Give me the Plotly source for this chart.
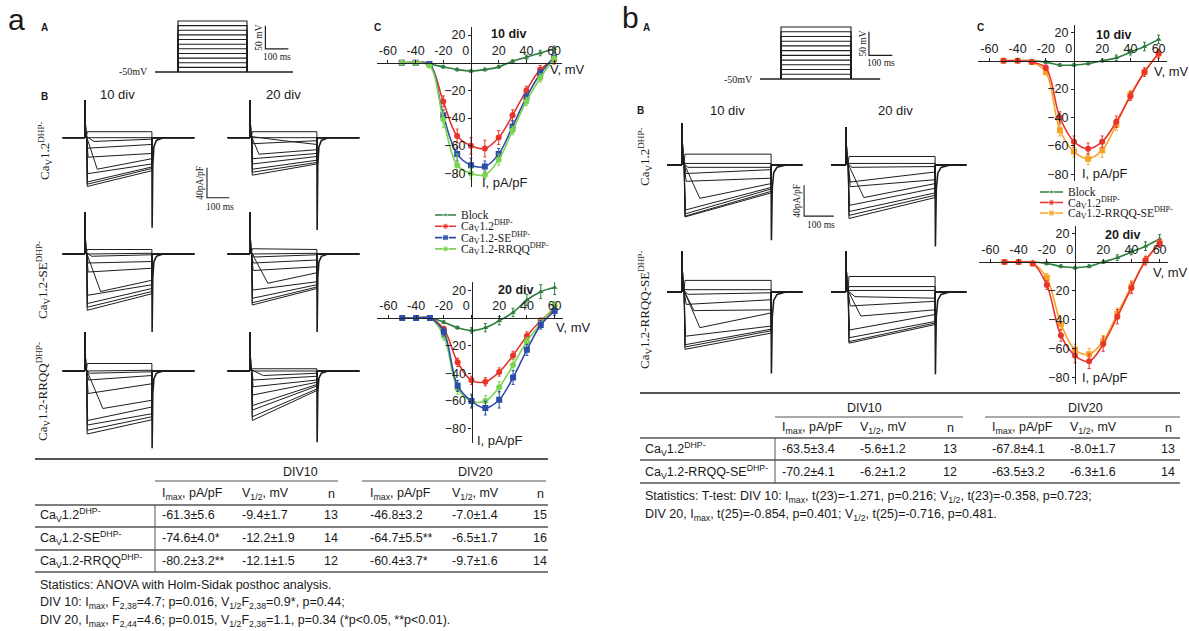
import plotly.graph_objects as go

W, H = 1189, 631
SANS = "Liberation Sans, Arial, sans-serif"
SERIF = "Liberation Serif, Times New Roman, serif"

# ======================= DATA =======================
V_MV = [-50, -40, -30, -20, -10, 0, 10, 20, 30, 40, 50, 60]

# panel a, C : I-V (pA/pF), 10 div
IV_A10_BLOCK = [0, 0, -1, -3, -5, -6, -5, -3, 1, 4, 7, 10]
IV_A10_WT = [0, 0, -1, -28, -53, -60, -62, -54, -38, -20, -5, 2]
IV_A10_SE = [0, 0, -1, -38, -66, -74, -75, -66, -46, -25, -8, 4]
IV_A10_RRQQ = [0, 0, -2, -41, -74, -80, -81, -70, -49, -28, -11, 3]
ERR_A10_BLOCK = [0, 0, 0.5, 1, 1, 1, 1, 1, 1, 1.5, 2, 2]
ERR_A10_WT = [0, 0, 1, 4, 5, 6, 6, 5, 4, 3, 3, 3]
ERR_A10_SE = [0, 0, 1, 4, 5, 5, 4, 4, 4, 3, 3, 3]
ERR_A10_RRQQ = [0, 0, 1, 6, 8, 4, 3, 4, 3, 3, 3, 3]
# panel a, C : I-V, 20 div
IV_A20_BLOCK = [0, 0, 0, -3, -7, -9, -7, -2, 4, 13, 19, 22]
IV_A20_WT = [0, 0, 0, -8, -32, -45, -46, -39, -27, -13, -2, 6]
IV_A20_SE = [0, 0, 0, -10, -49, -60, -65, -59, -43, -23, -5, 5]
IV_A20_RRQQ = [0, 0, 0, -13, -51, -60, -60, -50, -34, -17, -4, 9]
ERR_A20_BLOCK = [0, 0, 0, 1, 1, 2, 3, 3, 3, 4, 5, 5]
ERR_A20_WT = [0, 0, 0, 2, 3, 3, 3, 3, 3, 3, 2, 2]
ERR_A20_SE = [0, 0, 0, 3, 4, 5, 5, 6, 5, 4, 3, 3]
ERR_A20_RRQQ = [0, 0, 0, 3, 4, 4, 4, 4, 4, 3, 3, 3]
# panel b, C : I-V
IV_B10_BLOCK = [0, 0, 0, -1, -3, -3, -2, 0, 2, 6, 10, 15]
IV_B10_WT = [0, 0, -1, -5, -40, -57, -62, -57, -43, -25, -8, 5]
IV_B10_RS = [0, 0, -1, -8, -49, -64, -69, -63, -45, -24, -8, 5]
IV_B20_BLOCK = [0, 0, 0, -1, -3, -4, -3, 0, 3, 7, 11, 16]
IV_B20_WT = [0, 0, -1, -16, -51, -65, -69, -57, -38, -18, 1, 13]
IV_B20_RS = [0, 0, -1, -11, -43, -61, -64, -55, -36, -17, 1, 13]
ERR_B_BLOCK = [0, 0, 0, 1, 1, 1, 1, 1, 2, 2, 3, 3]
ERR_B10_WT = [0, 0, 1, 2, 4, 4, 4, 4, 4, 3, 3, 3]
ERR_B10_RS = [0, 0, 1, 2, 4, 4, 4, 5, 4, 3, 3, 3]
ERR_B20_WT = [0, 0, 1, 3, 4, 5, 5, 5, 5, 4, 3, 3]
ERR_B20_RS = [0, 0, 1, 3, 4, 4, 4, 4, 4, 4, 3, 3]

# voltage protocol
HOLD_MV = -50
PROTO_LEVELS_MV = [-40, -30, -20, -10, 0, 10, 20, 30, 40, 50, 60]
PULSE_MS = 300
SCALE_MV = 50
SCALE_MS = 100
SCALE_PAPF = 40

# current traces: peak, end-of-pulse current (pA/pF) and time to peak (ms)
A_WT_10_PEAK = [8, 0, -5, -14, -26, -42, -48, -59, -62, -65]
A_WT_10_END = [8, 0, -2, -9, -21, -28, -35, -39, -41, -44]
A_WT_10_TPK = [10, 10, 40, 12, 14, 55, 12, 11, 10, 10]
A_WT_20_PEAK = [8, 0, -4, -8, -22, -28, -35, -42, -46, -50]
A_WT_20_END = [8, 0, -9, -4, -16, -21, -25, -30, -33, -35]
A_WT_20_TPK = [10, 10, 150, 12, 40, 12, 12, 11, 10, 10]
A_SE_10_PEAK = [6, 0, -3, -12, -24, -50, -55, -66, -71, -75]
A_SE_10_END = [6, 1, -1, -10, -19, -35, -41, -46, -50, -53]
A_SE_10_TPK = [10, 10, 30, 14, 14, 70, 12, 11, 10, 10]
A_SE_20_PEAK = [7, 0, -4, -12, -22, -39, -48, -59, -65, -68]
A_SE_20_END = [6, 1, -1, -8, -17, -25, -37, -41, -44, -46]
A_SE_20_TPK = [10, 10, 20, 14, 14, 80, 12, 11, 10, 10]
A_RQ_10_PEAK = [10, 0, -3, -12, -30, -50, -66, -72, -79, -84]
A_RQ_10_END = [10, 1, -1, -6, -17, -39, -48, -57, -61, -65]
A_RQ_10_TPK = [10, 10, 20, 16, 14, 80, 12, 11, 10, 10]
A_RQ_20_PEAK = [3, 0, -6, -12, -21, -32, -46, -52, -61, -66]
A_RQ_20_END = [3, 0, -3, -7, -12, -15, -18, -20, -24, -26]
A_RQ_20_TPK = [10, 10, 60, 14, 14, 12, 12, 11, 10, 10]
B_WT_10_PEAK = [14, 2, -3, -11, -21, -43, -58, -63, -66, -67]
B_WT_10_END = [14, 2, -3, -6, -17, -24, -29, -31, -34, -36]
B_WT_10_TPK = [10, 10, 20, 14, 14, 60, 12, 11, 10, 10]
B_WT_20_PEAK = [11, 2, -3, -22, -28, -42, -52, -60, -65, -69]
B_WT_20_END = [11, 2, -2, -9, -19, -24, -30, -36, -39, -42]
B_WT_20_TPK = [10, 10, 20, 14, 14, 60, 12, 11, 10, 10]
B_RS_10_PEAK = [15, 3, -3, -16, -24, -46, -57, -68, -71, -74]
B_RS_10_END = [15, 3, -1, -10, -23, -27, -44, -48, -50, -53]
B_RS_10_TPK = [10, 10, 20, 14, 40, 60, 12, 11, 10, 10]
B_RS_20_PEAK = [20, 7, 2, -6, -18, -31, -49, -59, -64, -66]
B_RS_20_END = [20, 7, 2, -8, -12, -23, -29, -38, -40, -42]
B_RS_20_TPK = [10, 10, 10, 30, 14, 50, 12, 11, 10, 10]
# capacitive spike height and tail depth per trace panel (pA/pF)
A_SPIKE = [[50, 50], [55, 55], [52, 52]]
A_TAIL = [[120, 123], [104, 104], [103, 95]]
B_SPIKE = [[54, 49], [52, 52]]
B_TAIL = [[97, 105], [105, 106]]
SPIKE_T_MS = [0, 0, 3, 7]
SPIKE_SHAPE = [0, 1, 0.15, 0.03]
TAIL_T_MS = [0, 1, 4, 9, 20, 50]
TAIL_SHAPE = [0, 1, 0.3, 0.1, 0.03, 0]

# tables
TA_ROWS = ["Ca<sub>V</sub>1.2<sup>DHP-</sup>", "Ca<sub>V</sub>1.2-SE<sup>DHP-</sup>",
           "Ca<sub>V</sub>1.2-RRQQ<sup>DHP-</sup>"]
TA_IMAX10 = ["-61.3±5.6", "-74.6±4.0*", "-80.2±3.2**"]
TA_V10 = ["-9.4±1.7", "-12.2±1.9", "-12.1±1.5"]
TA_N10 = ["13", "14", "12"]
TA_IMAX20 = ["-46.8±3.2", "-64.7±5.5**", "-60.4±3.7*"]
TA_V20 = ["-7.0±1.4", "-6.5±1.7", "-9.7±1.6"]
TA_N20 = ["15", "16", "14"]
TA_STATS = ["Statistics: ANOVA with Holm-Sidak posthoc analysis.",
            "DIV 10: I<sub>max</sub>, F<sub>2,38</sub>=4.7; p=0.016, V<sub>1/2</sub>F<sub>2,38</sub>=0.9*, p=0.44;",
            "DIV 20, I<sub>max</sub>, F<sub>2,44</sub>=4.6; p=0.015, V<sub>1/2</sub>F<sub>2,38</sub>=1.1, p=0.34 (*p&lt;0.05, **p&lt;0.01)."]
TB_ROWS = ["Ca<sub>V</sub>1.2<sup>DHP-</sup>", "Ca<sub>V</sub>1.2-RRQQ-SE<sup>DHP-</sup>"]
TB_IMAX10 = ["-63.5±3.4", "-70.2±4.1"]
TB_V10 = ["-5.6±1.2", "-6.2±1.2"]
TB_N10 = ["13", "12"]
TB_IMAX20 = ["-67.8±4.1", "-63.5±3.2"]
TB_V20 = ["-8.0±1.7", "-6.3±1.6"]
TB_N20 = ["13", "14"]
TB_STATS = ["Statistics: T-test: DIV 10: I<sub>max</sub>, t(23)=-1.271, p=0.216; V<sub>1/2</sub>, t(23)=-0.358, p=0.723;",
            "DIV 20, I<sub>max</sub>, t(25)=-0.854, p=0.401; V<sub>1/2</sub>, t(25)=-0.716, p=0.481."]
H_IMAX = "I<sub>max</sub>, pA/pF"
H_V = "V<sub>1/2</sub>, mV"
H_N = "n"

# ======================= STYLE =======================
C_BLOCK = "#2e7d3e"
C_WT = "#e8342c"
C_SE = "#2c4ea8"
C_RRQQ = "#7bd34f"
C_RS = "#f7a428"
C_TRACE = "#1e1e1e"
C_AX = "#222222"

fig = go.Figure()
layout = {}
annotations = []
shapes = []
_n = [0]


def add_axes(xpx, ypx, xr, yr, xkw=None, ykw=None):
    _n[0] += 1
    n = _n[0]
    s = "" if n == 1 else str(n)
    xa = dict(domain=[xpx[0] / W, xpx[1] / W], range=list(xr), visible=False,
              fixedrange=True, anchor="y" + s, showgrid=False, zeroline=False)
    ya = dict(domain=[1 - ypx[1] / H, 1 - ypx[0] / H], range=list(yr), visible=False,
              fixedrange=True, anchor="x" + s, showgrid=False, zeroline=False)
    if xkw:
        xa.update(xkw)
    if ykw:
        ya.update(ykw)
    layout["xaxis" + s] = xa
    layout["yaxis" + s] = ya
    return "x" + s, "y" + s


def lin_axes(x0px, x0v, kx, xr, y0px, y0v, ky, yr, xkw=None, ykw=None):
    xpx = (x0px + (xr[0] - x0v) * kx, x0px + (xr[1] - x0v) * kx)
    ypx = (y0px - (yr[1] - y0v) * ky, y0px - (yr[0] - y0v) * ky)
    return add_axes(xpx, ypx, xr, yr, xkw, ykw)


def ann(text, x, y, size=12.5, family=SANS, xanchor="center", yanchor="middle",
        angle=0, color="#1a1a1a", xref="paper", yref="paper"):
    if xref == "paper":
        x = x / W
    if yref == "paper":
        y = 1 - y / H
    annotations.append(dict(text=text, x=x, y=y, xref=xref, yref=yref, showarrow=False,
                            xanchor=xanchor, yanchor=yanchor, textangle=angle,
                            font=dict(family=family, size=size, color=color)))


def hline(x0, x1, y, width=1.0, color="#444"):
    shapes.append(dict(type="line", xref="paper", yref="paper", x0=x0 / W, x1=x1 / W,
                       y0=1 - y / H, y1=1 - y / H, line=dict(color=color, width=width)))


def vline(x, y0, y1, width=1.0, color="#444"):
    shapes.append(dict(type="line", xref="paper", yref="paper", x0=x / W, x1=x / W,
                       y0=1 - y0 / H, y1=1 - y1 / H, line=dict(color=color, width=width)))


def line_trace(xa, ya, x, y, color=C_TRACE, width=1.0):
    fig.add_trace(go.Scatter(x=x, y=y, mode="lines", xaxis=xa, yaxis=ya,
                             line=dict(color=color, width=width, simplify=False),
                             hoverinfo="skip"))


# ---------------- voltage protocol ----------------
def protocol(t0px, kt, v0px, kv, t_start, t_end, xr, bar_t, lab):
    xa, ya = lin_axes(t0px, 0, kt, xr, v0px, HOLD_MV, kv, [-56, 66])
    line_trace(xa, ya, [t_start, t_end], [HOLD_MV, HOLD_MV], width=1.4)
    for v in PROTO_LEVELS_MV:
        line_trace(xa, ya, [0, 0, PULSE_MS, PULSE_MS], [HOLD_MV, v, v, HOLD_MV], width=1.1)
    line_trace(xa, ya, [bar_t, bar_t, bar_t + SCALE_MS], [SCALE_MV, 0, 0], width=1.2)
    ann("-50mV", lab[0], lab[1], size=10, family=SERIF, xanchor="right")
    ann("%d mV" % SCALE_MV, t0px + bar_t * kt - 6, v0px - (SCALE_MV / 2 - HOLD_MV) * kv,
        size=9.5, family=SERIF, angle=-90)
    ann("%d ms" % SCALE_MS, t0px + (bar_t + SCALE_MS / 2) * kt, v0px - (0 - HOLD_MV) * kv + 8,
        size=9.5, family=SERIF)


protocol(178, 0.23, 72, 0.4636, -100, 500, [-110, 510], 380, (150, 72))
protocol(781, 0.2333, 79, 0.4727, -90, 425, [-100, 500], 377, (755, 79))


# ---------------- current traces ----------------
def trace_panel(t0px, kt, base_px, ki, xr, yr, t_start, t_end, peaks, ends, tpks, spike, tail,
                bar=None):
    xa, ya = lin_axes(t0px, 0, kt, xr, base_px, 0, ki, yr)
    spike_y = [spike * f for f in SPIKE_SHAPE]
    for p, e, tp in zip(peaks, ends, tpks):
        xs = [t_start] + SPIKE_T_MS + [tp, PULSE_MS, PULSE_MS, t_end]
        ys = [0] + spike_y + [p, e, 0, 0]
        line_trace(xa, ya, xs, ys, width=1.0)
    line_trace(xa, ya, [PULSE_MS + t for t in TAIL_T_MS], [-tail * f for f in TAIL_SHAPE],
               width=1.6)
    if bar is not None:
        bt, bi = bar
        line_trace(xa, ya, [bt, bt, bt + SCALE_MS], [bi + SCALE_PAPF, bi, bi], width=1.1)
        ann("%dpA/pF" % SCALE_PAPF, t0px + bt * kt - 7, base_px - (bi + SCALE_PAPF / 2) * ki,
            size=9.5, family=SERIF, angle=-90)
        ann("%d ms" % SCALE_MS, t0px + (bt + SCALE_MS / 2) * kt + 2, base_px - bi * ki + 9,
            size=9.5, family=SERIF)


KA_T, KA_I = 0.223, 0.75
A_BASE = [137.7, 254, 371]
A_PANELS = [
    [(A_WT_10_PEAK, A_WT_10_END, A_WT_10_TPK), (A_WT_20_PEAK, A_WT_20_END, A_WT_20_TPK)],
    [(A_SE_10_PEAK, A_SE_10_END, A_SE_10_TPK), (A_SE_20_PEAK, A_SE_20_END, A_SE_20_TPK)],
    [(A_RQ_10_PEAK, A_RQ_10_END, A_RQ_10_TPK), (A_RQ_20_PEAK, A_RQ_20_END, A_RQ_20_TPK)],
]
for r in range(3):
    for c, (t0px, xr) in enumerate([(85, [-105, 660]), (250, [-105, 500])]):
        pk, en, tp = A_PANELS[r][c]
        bar = (547, -80) if (r == 0 and c == 0) else None
        trace_panel(t0px, KA_T, A_BASE[r], KA_I, xr, [-135, 62], -100, 490, pk, en, tp,
                    A_SPIKE[r][c], A_TAIL[r][c], bar)

KB_T, KB_I = 0.297, 0.775
B_BASE = [165, 292]
B_PANELS = [
    [(B_WT_10_PEAK, B_WT_10_END, B_WT_10_TPK), (B_WT_20_PEAK, B_WT_20_END, B_WT_20_TPK)],
    [(B_RS_10_PEAK, B_RS_10_END, B_RS_10_TPK), (B_RS_20_PEAK, B_RS_20_END, B_RS_20_TPK)],
]
for r in range(2):
    for c, (t0px, xr) in enumerate([(682, [-60, 520]), (846, [-60, 420])]):
        pk, en, tp = B_PANELS[r][c]
        bar = (411, -66) if (r == 0 and c == 0) else None
        trace_panel(t0px, KB_T, B_BASE[r], KB_I, xr, [-115, 62], -50, 405, pk, en, tp,
                    B_SPIKE[r][c], B_TAIL[r][c], bar)


# ---------------- I-V plots ----------------
def iv_plot(x0px, kx, y0px, ky, yr, series, title, tpos, vpos, ipos):
    tickfont = dict(family=SANS, size=12.5, color=C_AX)
    xkw = dict(visible=True, anchor="free", position=1 - y0px / H, side="top",
               showline=True, linecolor=C_AX, linewidth=1.3, ticks="outside", ticklen=3,
               tickcolor=C_AX, tickvals=[-60, -40, -20, 0, 20, 40, 60],
               ticktext=["-60", "-40", "-20", "0\u00a0\u00a0\u00a0", "20", "40", "60"],
               tickfont=tickfont)
    ykw = dict(visible=True, anchor="free", position=x0px / W, side="left",
               showline=True, linecolor=C_AX, linewidth=1.3, ticks="outside", ticklen=3,
               tickcolor=C_AX, tickvals=[-80, -60, -40, -20, 20],
               tickfont=tickfont)
    xa, ya = lin_axes(x0px, 0, kx, [-68, 66], y0px, 0, ky, yr, xkw, ykw)
    for vals, err, color, sym, size in series:
        fig.add_trace(go.Scatter(
            x=V_MV, y=vals, mode="lines+markers", xaxis=xa, yaxis=ya,
            line=dict(color=color, width=1.6, shape="spline", smoothing=1.0),
            marker=dict(color=color, symbol=sym, size=size),
            error_y=dict(type="data", array=err, color=color, thickness=1, width=1.5),
            hoverinfo="skip"))
    ann("<b>%s</b>" % title, tpos[0], tpos[1], size=12.5)
    ann("V, mV", vpos[0], vpos[1], size=13, xanchor="left")
    ann("I, pA/pF", ipos[0], ipos[1], size=13)


iv_plot(471, 1.385, 62.7, 1.385, [-90, 26],
        [(IV_A10_BLOCK, ERR_A10_BLOCK, C_BLOCK, "triangle-up", 5),
         (IV_A10_WT, ERR_A10_WT, C_WT, "circle", 6),
         (IV_A10_SE, ERR_A10_SE, C_SE, "square", 6),
         (IV_A10_RRQQ, ERR_A10_RRQQ, C_RRQQ, "circle", 6)],
        "10 div", (508, 34), (548, 70), (505, 183))
iv_plot(471.5, 1.385, 318, 1.385, [-90, 26],
        [(IV_A20_BLOCK, ERR_A20_BLOCK, C_BLOCK, "triangle-up", 5),
         (IV_A20_WT, ERR_A20_WT, C_WT, "circle", 6),
         (IV_A20_RRQQ, ERR_A20_RRQQ, C_RRQQ, "circle", 6),
         (IV_A20_SE, ERR_A20_SE, C_SE, "square", 6)],
        "20 div", (515, 290), (554, 327), (500, 440))
iv_plot(1074, 1.41, 60.7, 1.42, [-85, 25],
        [(IV_B10_BLOCK, ERR_B_BLOCK, C_BLOCK, "triangle-up", 5),
         (IV_B10_RS, ERR_B10_RS, C_RS, "square", 6),
         (IV_B10_WT, ERR_B10_WT, C_WT, "circle", 6)],
        "10 div", (1113, 35), (1152, 72), (1105, 174))
iv_plot(1075, 1.41, 262, 1.44, [-85, 25],
        [(IV_B20_BLOCK, ERR_B_BLOCK, C_BLOCK, "triangle-up", 5),
         (IV_B20_RS, ERR_B20_RS, C_RS, "square", 6),
         (IV_B20_WT, ERR_B20_WT, C_WT, "circle", 6)],
        "20 div", (1122, 235), (1151, 272), (1105, 377))


# ---------------- manual legends ----------------
def legend(x0px, x1px, top_px, step_px, items, fsize):
    nitem = len(items)
    xa, ya = add_axes((x0px, x1px), (top_px - 0.6 * step_px, top_px + (nitem - 0.4) * step_px),
                      [0, 1], [nitem - 0.4, -0.6])
    for i, (label, color, sym, size) in enumerate(items):
        fig.add_trace(go.Scatter(x=[0, 0.5, 1], y=[i, i, i], mode="lines+markers",
                                 xaxis=xa, yaxis=ya, line=dict(color=color, width=1.6),
                                 marker=dict(color=color, symbol=sym, size=[0, size, 0]),
                                 hoverinfo="skip"))
        ann(label, x1px + 3, top_px + i * step_px, size=fsize, family=SERIF, xanchor="left")


legend(435, 456, 215, 11.3,
       [("Block", C_BLOCK, "triangle-up", 5),
        ("Ca<sub>V</sub>1.2<sup>DHP-</sup>", C_WT, "circle", 6),
        ("Ca<sub>V</sub>1.2-SE<sup>DHP-</sup>", C_SE, "square", 6),
        ("Ca<sub>V</sub>1.2-RRQQ<sup>DHP-</sup>", C_RRQQ, "circle", 6)], 11.5)
legend(1040, 1063, 192, 10.5,
       [("Block", C_BLOCK, "triangle-up", 5),
        ("Ca<sub>V</sub>1.2<sup>DHP-</sup>", C_WT, "circle", 6),
        ("Ca<sub>V</sub>1.2-RRQQ-SE<sup>DHP-</sup>", C_RS, "square", 6)], 11.5)

# ---------------- labels ----------------
ann("a", 16, 20, size=30)
ann("b", 630, 18, size=30)
for (t, x, y) in [("A", 45, 27), ("B", 45, 96), ("C", 377, 27),
                  ("A", 646, 28), ("B", 640, 110), ("C", 980, 27)]:
    ann("<b>%s</b>" % t, x, y, size=10)
for (t, x, y) in [("10 div", 117, 95), ("20 div", 283, 95), ("10 div", 727, 110),
                  ("20 div", 895, 110)]:
    ann(t, x, y, size=13)
ann(TA_ROWS[0], 45, 150, size=13, family=SERIF, angle=-90)
ann(TA_ROWS[1], 43, 280, size=13, family=SERIF, angle=-90)
ann(TA_ROWS[2], 43, 392, size=13, family=SERIF, angle=-90)
ann(TB_ROWS[0], 645, 157, size=13, family=SERIF, angle=-90)
ann(TB_ROWS[1], 645, 310, size=13, family=SERIF, angle=-90)


# ---------------- tables ----------------
def table(x_left, x_right, y_top, div_rules, div_lbl, col_x, row_y, rule_y, vline_x, rows,
          cols, stats, stats_y):
    hline(x_left, x_right, y_top, width=1.8, color="#555")
    for (a, b), (lx, ly) in zip(div_rules, div_lbl):
        hline(a, b, ly + 9, width=1.0, color="#555")
    for txt, lx in zip(["DIV10", "DIV20"], [p[0] for p in div_lbl]):
        ann(txt, lx, div_lbl[0][1], size=12.5)
    heads = [H_IMAX, H_V, H_N, H_IMAX, H_V, H_N]
    for h, (cx, anc) in zip(heads, col_x):
        ann(h, cx, row_y[0], size=12.5, xanchor=anc)
    for ry in rule_y:
        hline(x_left, x_right, ry, width=1.3, color="#555")
    vline(vline_x, rule_y[0], rule_y[-1], width=1.0, color="#555")
    for i, label in enumerate(rows):
        ann(label, x_left + 3, row_y[i + 1], size=12.5, xanchor="left")
        for col, (cx, anc) in zip(cols, col_x):
            ann(col[i], cx, row_y[i + 1], size=12.5, xanchor=anc)
    for s, sy in zip(stats, stats_y):
        ann(s, x_left + 3, sy, size=12.5, xanchor="left")


table(35, 548, 459, [(155, 338), (362, 546)], [(300, 472), (475, 472)],
      [(160, "left"), (240, "left"), (331, "center"), (368, "left"), (450, "left"),
       (540, "center")],
      [494, 515, 538, 561], [505, 527, 550, 572], 155, TA_ROWS,
      [TA_IMAX10, TA_V10, TA_N10, TA_IMAX20, TA_V20, TA_N20], TA_STATS, [585, 603, 621])
table(640, 1180, 393, [(775, 963), (985, 1180)], [(865, 408), (1085, 408)],
      [(780, "left"), (858, "left"), (950, "center"), (990, "left"), (1068, "left"),
       (1168, "center")],
      [428, 449, 472], [438, 460, 483], 775, TB_ROWS,
      [TB_IMAX10, TB_V10, TB_N10, TB_IMAX20, TB_V20, TB_N20], TB_STATS, [497, 515])

fig.update_layout(width=W, height=H, margin=dict(l=0, r=0, t=0, b=0),
                  paper_bgcolor="white", plot_bgcolor="rgba(0,0,0,0)", showlegend=False,
                  hovermode=False, annotations=annotations, shapes=shapes, **layout)
fig.write_html("out.html", config={"displayModeBar": False},
               post_script="document.body.style.margin='0px';")
